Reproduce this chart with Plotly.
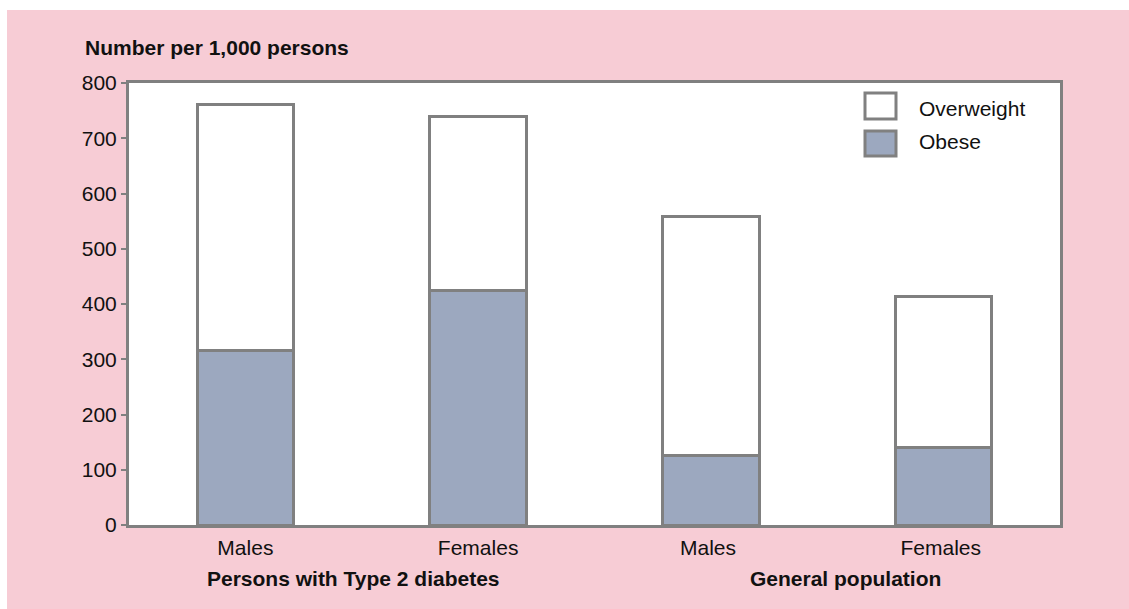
import plotly.graph_objects as go

# Category labels along the x axis and their population groups
categories = ["Males", "Females", "Males ", "Females "]
groups = ["Persons with Type 2 diabetes", "General population"]

# Number per 1,000 persons
obese = [315, 425, 126, 140]
overweight = [447, 315, 432, 273]

y_ticks = [0, 100, 200, 300, 400, 500, 600, 700, 800]

GRAY = "#808080"
PINK = "#f7ccd5"
OBESE_FILL = "#9ca8bf"
FONT = "Liberation Sans, Arial, sans-serif"

W, H = 1129, 609
L, R, T, B = 129, 69, 83, 84
PW, PH = W - L - R, H - T - B


def px(x):
    return (x - L) / PW


def py(y):
    return (H - B - y) / PH


fig = go.Figure()
fig.add_trace(go.Bar(
    x=categories, y=obese, name="Obese",
    marker=dict(color=OBESE_FILL, line=dict(color=GRAY, width=3)),
    showlegend=False, hoverinfo="y",
))
fig.add_trace(go.Bar(
    x=categories, y=overweight, name="Overweight",
    marker=dict(color="white", line=dict(color=GRAY, width=3)),
    showlegend=False, hoverinfo="y",
))

shapes = [
    # white strips framing the pink panel
    dict(type="rect", xref="paper", yref="paper", x0=px(0), x1=px(W), y0=py(10), y1=py(0),
         fillcolor="white", line=dict(width=0), layer="below"),
    dict(type="rect", xref="paper", yref="paper", x0=px(0), x1=px(7), y0=py(H), y1=py(0),
         fillcolor="white", line=dict(width=0), layer="below"),
    # legend swatches
    dict(type="rect", xref="paper", yref="paper", x0=px(865), x1=px(896), y0=py(119), y1=py(93),
         fillcolor="white", line=dict(color=GRAY, width=3)),
    dict(type="rect", xref="paper", yref="paper", x0=px(865), x1=px(896), y0=py(156), y1=py(131),
         fillcolor=OBESE_FILL, line=dict(color=GRAY, width=3)),
]

annotations = [
    dict(text="<b>Number per 1,000 persons</b>", xref="paper", yref="paper",
         x=px(83), y=py(47), xanchor="left", yanchor="middle", showarrow=False,
         font=dict(size=21, color="#111111", family=FONT)),
    dict(text="Overweight", xref="paper", yref="paper", x=px(917), y=py(108),
         xanchor="left", yanchor="middle", showarrow=False,
         font=dict(size=21, color="#111111", family=FONT)),
    dict(text="Obese", xref="paper", yref="paper", x=px(917), y=py(141),
         xanchor="left", yanchor="middle", showarrow=False,
         font=dict(size=21, color="#111111", family=FONT)),
    dict(text="<b>" + groups[0] + "</b>", xref="paper", yref="paper", x=px(353), y=py(578),
         xanchor="center", yanchor="middle", showarrow=False,
         font=dict(size=21, color="#111111", family=FONT)),
    dict(text="<b>" + groups[1] + "</b>", xref="paper", yref="paper", x=px(845), y=py(578),
         xanchor="center", yanchor="middle", showarrow=False,
         font=dict(size=21, color="#111111", family=FONT)),
]

fig.update_layout(
    width=W, height=H,
    margin=dict(l=L, r=R, t=T, b=B, pad=0),
    paper_bgcolor=PINK, plot_bgcolor="white",
    barmode="stack", bargap=0.585,
    shapes=shapes, annotations=annotations,
    font=dict(family=FONT, size=20, color="#111111"),
    xaxis=dict(
        showline=True, linecolor=GRAY, linewidth=3, mirror=True,
        showgrid=False, zeroline=False,
        ticks="outside", ticklen=2, tickcolor="rgba(0,0,0,0)",
        tickfont=dict(size=21, color="#111111"),
    ),
    yaxis=dict(
        range=[0, 800], tickvals=y_ticks,
        showline=True, linecolor=GRAY, linewidth=3, mirror=True,
        showgrid=False, zeroline=False,
        ticks="outside", ticklen=5, tickwidth=2, tickcolor=GRAY,
        tickfont=dict(size=21, color="#111111"),
    ),
)

fig.write_html("out.html")
